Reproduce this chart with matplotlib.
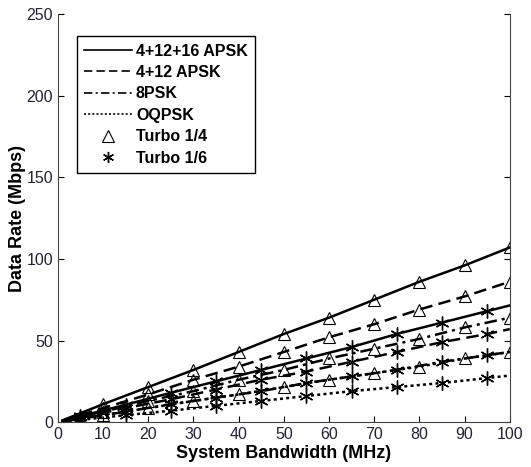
import numpy as np
import matplotlib.pyplot as plt
from matplotlib.lines import Line2D

plt.rcParams['font.family'] = ['Liberation Sans', 'DejaVu Sans']

# Turbo 1/4 curves (triangles at every 10 MHz)
bw_q = [1, 10, 20, 30, 40, 50, 60, 70, 80, 90, 100]
apsk32_q = [1.1, 11, 21.5, 32, 43, 54, 64, 75, 86, 96, 107]
apsk16_q = [0.9, 8.6, 17, 26, 34, 43, 52, 60, 69, 77, 86]
psk8_q = [0.6, 6.4, 13, 19, 26, 32, 39, 45, 51, 58, 64]
oqpsk_q = [0.4, 4.3, 8.6, 13, 17, 21.5, 26, 30, 34, 39, 43]

# Turbo 1/6 curves (stars at 5, 15, ..., 95 MHz)
bw_s = [1, 5, 15, 25, 35, 45, 55, 65, 75, 85, 95, 100]
apsk32_s = [0.7, 3.6, 10.7, 18, 25, 32, 39, 46, 54, 61, 68, 71.5]
apsk16_s = [0.6, 2.9, 8.6, 14, 20, 26, 31, 37, 43, 49, 54, 57]
psk8_s = [0.4, 2.1, 6.4, 11, 15, 19, 24, 28, 32, 37, 41, 43]
oqpsk_s = [0.3, 1.4, 4.3, 7, 10, 13, 16, 19, 21.5, 24, 27, 28.6]

mods = ['4+12+16 APSK', '4+12 APSK', '8PSK', 'OQPSK']
styles = ['-', (0, (5, 2.5)), (0, (5, 2, 1.2, 2)), (0, (1.2, 1.3))]
star = (6, 2, 0)

fig = plt.figure(figsize=(5.31, 4.67), dpi=100)
ax = fig.add_axes([0.109, 0.096, 0.851, 0.874])

for ys, ls in zip([apsk32_q, apsk16_q, psk8_q, oqpsk_q], styles):
    ax.plot(bw_q, ys, color='black', lw=1.8, linestyle=ls, marker='^',
            markersize=9, markerfacecolor='none', markeredgewidth=0.8,
            markevery=list(range(1, len(bw_q))))
for ys, ls in zip([apsk32_s, apsk16_s, psk8_s, oqpsk_s], styles):
    ax.plot(bw_s, ys, color='black', lw=1.8, linestyle=ls, marker=star,
            markersize=10, markeredgewidth=1.0,
            markevery=list(range(1, len(bw_s) - 1)))

ax.set_xlim(0, 100)
ax.set_ylim(0, 250)
ax.set_xticks(np.arange(0, 101, 10))
ax.set_yticks(np.arange(0, 251, 50))
ax.tick_params(direction='in', length=4, labelsize=11.5, right=True,
               labelcolor='#222233')
ax.spines['top'].set_visible(False)
for s in ['left', 'right', 'bottom']:
    ax.spines[s].set_color('#444444')
ax.set_xlabel('System Bandwidth (MHz)', fontsize=13, fontweight='bold', labelpad=2)
ax.set_ylabel('Data Rate (Mbps)', fontsize=13, fontweight='bold', labelpad=0)

handles = [Line2D([], [], color='black', lw=1.2, linestyle=ls) for ls in styles]
handles.append(Line2D([], [], color='black', lw=0, marker='^', markersize=9,
                      markerfacecolor='none', markeredgewidth=0.8))
handles.append(Line2D([], [], color='black', lw=0, marker=star, markersize=8,
                      markeredgewidth=1.0))
labels = mods + ['Turbo 1/4', 'Turbo 1/6']
leg = ax.legend(handles, labels, loc='upper left', bbox_to_anchor=(0.042, 0.945),
                fancybox=False, edgecolor='black', framealpha=1,
                prop={'weight': 'bold', 'size': 11.5}, handlelength=3.0,
                borderpad=0.45, labelspacing=0.4, handletextpad=0.25,
                borderaxespad=0)
leg.get_frame().set_linewidth(1.0)

fig.savefig('out.png', dpi=100)
